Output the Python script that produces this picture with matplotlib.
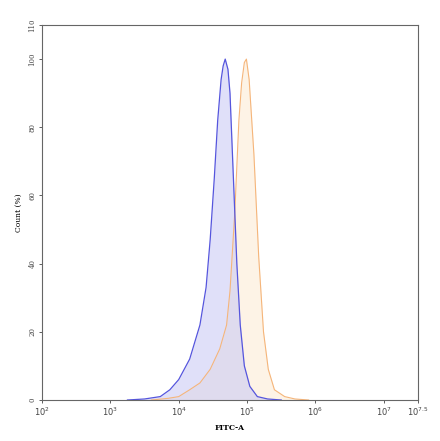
import numpy as np
import matplotlib
matplotlib.use("Agg")
import matplotlib.pyplot as plt

blue_logx = [3.25, 3.5, 3.73, 3.87, 4.0, 4.16, 4.31, 4.40, 4.46, 4.52, 4.57, 4.62, 4.65, 4.68, 4.72, 4.75, 4.80, 4.85, 4.90, 4.96, 5.04, 5.15, 5.3, 5.5]
blue_y    = [0, 0.3, 1, 3, 6, 12, 22, 33, 47, 65, 82, 94, 98, 100, 97, 90, 65, 40, 22, 10, 4, 1, 0.3, 0]
orange_logx = [3.6, 3.85, 4.0, 4.16, 4.31, 4.46, 4.6, 4.70, 4.75, 4.82, 4.88, 4.92, 4.96, 4.99, 5.03, 5.10, 5.17, 5.24, 5.31, 5.40, 5.55, 5.7, 5.9]
orange_y    = [0, 0.5, 1, 3, 5, 9, 15, 22, 32, 55, 82, 93, 99, 100, 94, 72, 42, 20, 9, 3, 1, 0.3, 0]

fig = plt.figure(figsize=(4.4, 4.41), dpi=100)
ax = fig.add_axes([42/440, 41/441, 376/440, 375/441])
bx = 10**np.array(blue_logx); ox = 10**np.array(orange_logx)
ax.fill_between(ox, orange_y, color='#fdf0e0', alpha=0.8, lw=0)
ax.fill_between(bx, blue_y, color='#c8c8f5', alpha=0.55, lw=0)
ax.plot(ox, orange_y, color='#f5b57a', lw=0.8)
ax.plot(bx, blue_y, color='#5555dd', lw=0.9)
ax.set_xscale('log')
ax.set_xlim(1e2, 10**7.5)
ax.set_ylim(0, 110)
ax.set_xticks([1e2,1e3,1e4,1e5,1e6,1e7,10**7.5])
ax.set_xticklabels(['$10^2$','$10^3$','$10^4$','$10^5$','$10^6$','$10^7$','$10^{7.5}$'], fontsize=6, family='DejaVu Serif')
ax.minorticks_off()
ax.set_yticks([0,20,40,60,80,100,110])
ax.set_yticklabels(['0','20','40','60','80','100','110'], fontsize=5, rotation=90, va='center', family='DejaVu Serif')
ax.set_xlabel('FITC-A', fontsize=5.5, family='DejaVu Serif', fontweight='bold')
ax.set_ylabel('Count (%)', fontsize=5.5, family='DejaVu Serif')
for s in ax.spines.values():
    s.set_color('#666666'); s.set_linewidth(0.8)
ax.tick_params(length=2, width=0.6, colors='#444444', pad=2)
fig.savefig('out.png', dpi=100)
